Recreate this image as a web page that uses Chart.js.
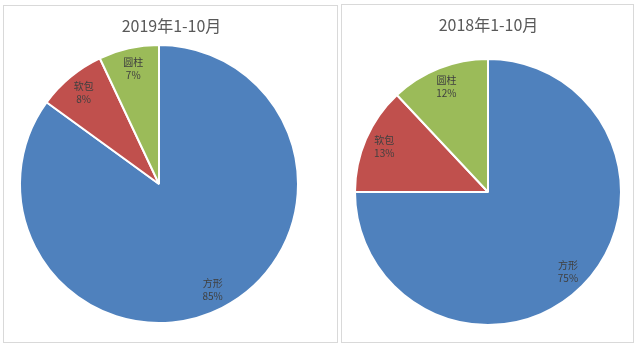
<!DOCTYPE html>
<html>
<head>
<meta charset="utf-8">
<script src="https://cdn.jsdelivr.net/npm/chart.js@4.4.1/dist/chart.umd.min.js"></script>
<style>
  html, body { margin: 0; padding: 0; background: #fff; }
  body { width: 640px; height: 353px; position: relative; overflow: hidden; }
  .box { position: absolute; box-sizing: border-box; border: 1px solid #d9d9d9; }
  .box canvas { position: absolute; left: 0; top: 0; }
</style>
</head>
<body>
<div class="box" id="box-2019" style="left:3px; top:5px; width:335px; height:338px;">
  <canvas id="chart-2019" width="335" height="338"></canvas>
</div>
<div class="box" id="box-2018" style="left:341px; top:4px; width:293px; height:339px;">
  <canvas id="chart-2018" width="293" height="339"></canvas>
</div>
<script>
// 资料
const categories = ["方形", "软包", "圆柱"];
const share2019 = [85, 8, 7];
const share2018 = [75, 13, 12];
const titles = ["2019年1-10月", "2018年1-10月"];
const colors = ["#4F81BD", "#C0504D", "#9BBB59"];

const FONT = "'Noto Sans CJK SC', 'Noto Sans', sans-serif";

// 标题：置中于整个外框
const boxTitlePlugin = {
  id: "boxTitle",
  afterDraw(chart, args, opts) {
    const ctx = chart.ctx;
    ctx.save();
    ctx.font = `16px ${FONT}`;
    ctx.fillStyle = "#595959";
    ctx.textAlign = "center";
    ctx.textBaseline = "middle";
    ctx.fillText(opts.text, chart.width / 2, opts.y);
    ctx.restore();
  },
};

// 扇区内标签：类别 + 百分比
const sliceLabelPlugin = {
  id: "sliceLabel",
  afterDatasetsDraw(chart) {
    const ctx = chart.ctx;
    const meta = chart.getDatasetMeta(0);
    const values = chart.data.datasets[0].data;
    ctx.save();
    ctx.font = `10px ${FONT}`;
    ctx.fillStyle = "#404040";
    ctx.textAlign = "center";
    ctx.textBaseline = "middle";
    meta.data.forEach((arc, i) => {
      const { x, y, startAngle, endAngle, outerRadius } = arc.getProps(
        ["x", "y", "startAngle", "endAngle", "outerRadius"],
        true
      );
      const mid = (startAngle + endAngle) / 2;
      const r = outerRadius * 0.85;
      const lx = x + Math.cos(mid) * r;
      const ly = y + Math.sin(mid) * r;
      ctx.fillText(chart.data.labels[i], lx, ly - 6.5);
      ctx.fillText(values[i] + "%", lx, ly + 6.5);
    });
    ctx.restore();
  },
};

function makePie(canvasId, title, values, padding, titleY) {
  return new Chart(document.getElementById(canvasId), {
    type: "pie",
    data: {
      labels: categories,
      datasets: [
        {
          data: values,
          backgroundColor: colors,
          borderColor: "#ffffff",
          borderWidth: 2,
        },
      ],
    },
    options: {
      responsive: false,
      animation: false,
      events: [],
      layout: { padding },
      plugins: {
        legend: { display: false },
        title: { display: false },
        tooltip: { enabled: false },
        boxTitle: { text: title, y: titleY },
      },
    },
    plugins: [sliceLabelPlugin, boxTitlePlugin],
  });
}

makePie("chart-2019", titles[0], share2019, { left: 15, right: 40, top: 38, bottom: 20 }, 20);
makePie("chart-2018", titles[1], share2018, { left: 12, right: 13, top: 53, bottom: 18 }, 20);
</script>
</body>
</html>
